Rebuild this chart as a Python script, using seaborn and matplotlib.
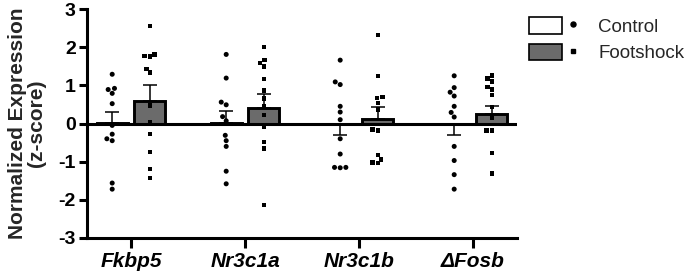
import numpy as np
import pandas as pd
import matplotlib
matplotlib.use('Agg')
import matplotlib.pyplot as plt
from matplotlib.patches import Patch
from matplotlib.lines import Line2D
from matplotlib.legend_handler import HandlerTuple
import seaborn as sns

# genes and groups
genes = ['Fkbp5', 'Nr3c1a', 'Nr3c1b', 'ΔFosb']
groups = ['Control', 'Footshock']

# individual animals, z-scores
control_fkbp5 = [1.29, 0.92, 0.89, 0.79, 0.52, -0.05, -0.28, -0.45, -0.40, -1.56, -1.72]
footshock_fkbp5 = [2.55, 1.81, 1.77, 1.75, 1.43, 1.33, 0.47, 0.04, -0.28, -0.75, -1.19, -1.43]
control_nr3c1a = [1.81, 1.19, 0.56, 0.49, 0.18, 0.07, -0.31, -0.45, -0.60, -1.25, -1.58]
footshock_nr3c1a = [2.00, 1.66, 1.59, 1.50, 1.17, 0.86, 0.66, 0.45, 0.22, -0.09, -0.48, -0.66, -2.13]
control_nr3c1b = [1.66, 1.09, 1.02, 0.45, 0.30, 0.10, -0.40, -0.80, -1.15, -1.15, -1.16]
footshock_nr3c1b = [2.32, 1.25, 0.69, 0.67, 0.54, 0.37, -0.16, -0.18, -0.82, -0.94, -1.02, -1.04]
control_fosb = [1.25, 0.94, 0.82, 0.72, 0.45, 0.29, 0.17, -0.60, -0.97, -1.34, -1.72]
footshock_fosb = [1.26, 1.18, 1.10, 0.96, 0.89, 0.75, 0.43, 0.15, -0.18, -0.18, -0.77, -1.31]

# bar heights (mean) and SEM as drawn
control_mean = [0.01, 0.01, -0.01, -0.01]
control_sem = [0.30, 0.31, 0.30, 0.30]
footshock_mean = [0.60, 0.41, 0.13, 0.24]
footshock_sem = [0.40, 0.35, 0.31, 0.23]

sns.set_style('ticks')
plt.rcParams['font.family'] = ['Liberation Sans', 'DejaVu Sans']
plt.rcParams['axes.unicode_minus'] = False

fig = plt.figure(figsize=(6.85, 2.79), dpi=100)
ax = fig.add_axes([87 / 685, 41 / 279, 430 / 685, 229 / 279])

idx = np.arange(len(genes))
shift = 0.165
grey = '#6b6b6b'

plot_sets = [
    ('Control', [control_fkbp5, control_nr3c1a, control_nr3c1b, control_fosb],
     control_mean, control_sem, 'white', 'o', 3.6, -shift),
    ('Footshock', [footshock_fkbp5, footshock_nr3c1a, footshock_nr3c1b, footshock_fosb],
     footshock_mean, footshock_sem, grey, 's', 3.3, shift),
]

for grp, pts, means, sems, fill, marker, msize, off in plot_sets:
    pos = idx + off
    bars = pd.DataFrame({'pos': pos, 'mean': means})
    sns.barplot(data=bars, x='pos', y='mean', native_scale=True, width=0.27,
                color=fill, saturation=1, edgecolor='black', linewidth=2.1,
                errorbar=None, ax=ax, zorder=2)

    # one-sided SEM like the original (away from zero)
    means_a = np.array(means)
    sems_a = np.array(sems)
    upper = np.where(means_a >= 0, sems_a, 0)
    lower = np.where(means_a < 0, sems_a, 0)
    ax.errorbar(pos, means_a, yerr=[lower, upper], fmt='none', ecolor='black',
                elinewidth=1.1, capsize=5.3, capthick=1.1, zorder=3)

    dots = pd.DataFrame({'pos': np.repeat(pos, [len(p) for p in pts]),
                         'value': np.concatenate(pts)})
    sns.swarmplot(data=dots, x='pos', y='value', native_scale=True, orient='x',
                  marker=marker, color='black', size=msize, linewidth=0.3,
                  edgecolor='none', ax=ax, zorder=5)

ax.axhline(0, color='black', lw=2.2, zorder=4)

ax.set_xlim(-0.386, 3.386)
ax.set_ylim(-3, 3)
ax.set_yticks(range(-3, 4))
ax.set_xticks(idx)
ax.set_xticklabels(genes, fontsize=15, fontweight='bold', fontstyle='italic')
for t in ax.get_yticklabels():
    t.set_fontsize(14)
    t.set_fontweight('bold')
ax.set_xlabel('')
ax.set_ylabel('Normalized Expression\n(z-score)', fontsize=15, fontweight='bold',
              labelpad=9, linespacing=0.98)

for side in ['top', 'right']:
    ax.spines[side].set_visible(False)
for side in ['left', 'bottom']:
    ax.spines[side].set_linewidth(2.2)
    ax.spines[side].set_color('black')
ax.tick_params(axis='y', width=2.2, length=6, pad=2, colors='black')
ax.tick_params(axis='x', width=2.2, length=7, pad=3, colors='black')

# legend: box + marker + label
handles = [
    (Patch(facecolor='white', edgecolor='black', linewidth=1.2),
     Line2D([], [], marker='o', linestyle='none', color='black', markersize=3.6)),
    (Patch(facecolor=grey, edgecolor='black', linewidth=1.2),
     Line2D([], [], marker='s', linestyle='none', color='black', markersize=3.3)),
]
fig.legend(handles, groups, handler_map={tuple: HandlerTuple(ndivide=None, pad=-0.28)},
           loc='upper left', bbox_to_anchor=(529 / 685, 1 - 17 / 279),
           frameon=False, fontsize=13.5, handlelength=3.2, handleheight=1.0,
           handletextpad=0.5, labelspacing=0.42, borderpad=0, borderaxespad=0)

fig.savefig('out.png', dpi=100)
